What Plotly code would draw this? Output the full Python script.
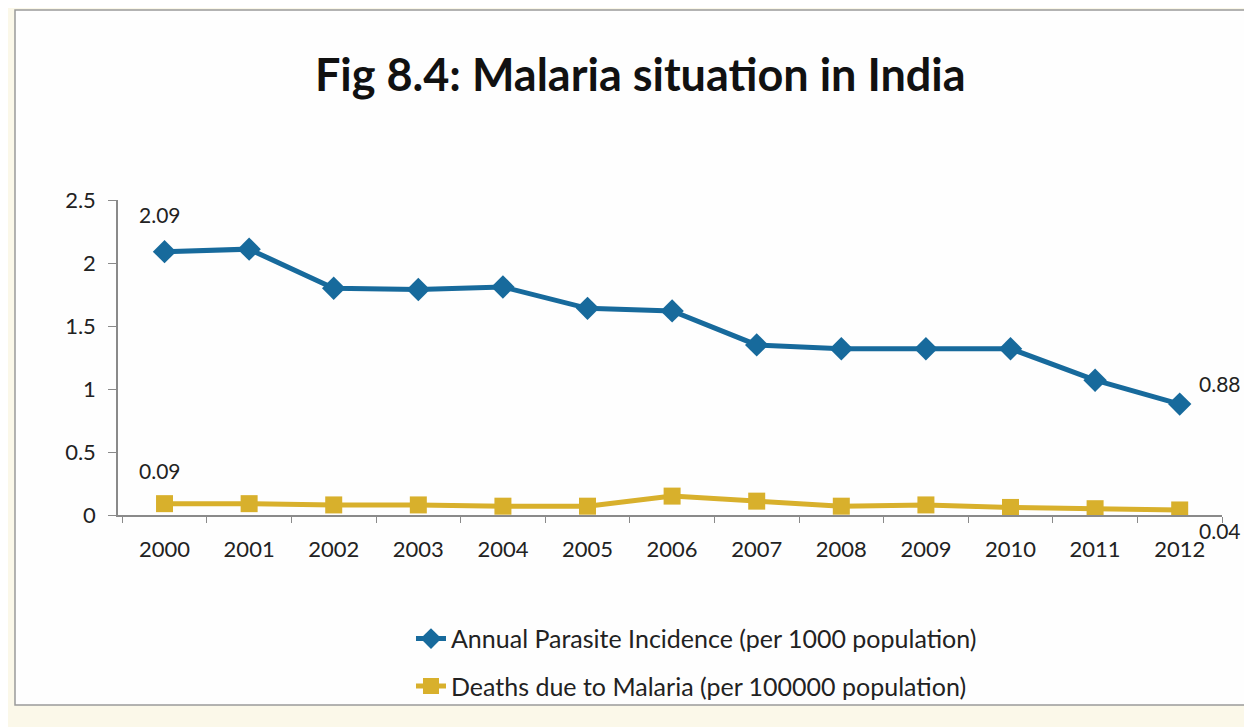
import plotly.graph_objects as go

# data
years = [str(y) for y in range(2000, 2013)]
api = [2.09, 2.11, 1.80, 1.79, 1.81, 1.64, 1.62, 1.35, 1.32, 1.32, 1.32, 1.07, 0.88]
deaths = [0.09, 0.09, 0.08, 0.08, 0.07, 0.07, 0.15, 0.11, 0.07, 0.08, 0.06, 0.05, 0.04]
y_ticks = [0, 0.5, 1, 1.5, 2, 2.5]
y_ticktext = ["0", "0.5", "1", "1.5", "2", "2.5"]

blue = "#176a9c"
gold = "#d8b02c"
font = "Lato, 'Noto Sans', sans-serif"

fig = go.Figure()
fig.add_trace(go.Scatter(
    x=years, y=api, mode="lines+markers", legendgroup="a",
    name="Annual Parasite Incidence (per 1000 population)",
    line=dict(color=blue, width=5),
    marker=dict(symbol="diamond", size=18, color=blue),
))
fig.add_trace(go.Scatter(
    x=years, y=deaths, mode="lines+markers", legendgroup="b",
    name="Deaths due to Malaria (per 100000 population)",
    line=dict(color=gold, width=5),
    marker=dict(symbol="square", size=17, color=gold),
))

# data labels on first and last points (x as category index)
n = len(years)
labels = [
    (0, api[0], f"{api[0]:.2f}", -5, 37),
    (0, deaths[0], f"{deaths[0]:.2f}", -5, 33),
    (n - 1, api[-1], f"{api[-1]:.2f}", 40, 21),
    (n - 1, deaths[-1], f"{deaths[-1]:.2f}", 40, -21),
]
for x, y, t, xs, ys in labels:
    fig.add_annotation(x=x, y=y, text=t, showarrow=False, xshift=xs, yshift=ys,
                       font=dict(size=21, color="#222222", family=font))

# chart frame
fig.add_shape(type="rect", xref="paper", yref="paper", layer="below",
              x0=-0.0933, x1=1.0208, y0=-0.603, y1=1.603,
              line=dict(color="#9a9a9a", width=1.5), fillcolor="#fefefe")

fig.update_layout(
    width=1252, height=727,
    paper_bgcolor="#fbf8e9", plot_bgcolor="rgba(0,0,0,0)",
    margin=dict(l=110, r=38, t=192, b=220),
    font=dict(family=font, size=22, color="#222222"),
    title=dict(text="<b>Fig 8.4: Malaria situation in India</b>",
               x=0.505, xanchor="center", y=0.908, yanchor="middle",
               font=dict(size=45, color="#111111", family=font)),
    showlegend=True,
    legend=dict(orientation="v", x=0.524, xanchor="center", y=-0.32, yanchor="top",
                bgcolor="rgba(0,0,0,0)", font=dict(size=25),
                tracegroupgap=12),
    xaxis=dict(type="category", range=[-0.55, 12.5], showline=True,
               linecolor="#8a8a8a", linewidth=1.5, ticks="outside",
               tickson="boundaries", ticklen=6, tickcolor="#8a8a8a",
               showgrid=False, zeroline=False, ticklabelstandoff=14),
    yaxis=dict(range=[0, 2.5], tickvals=y_ticks, ticktext=y_ticktext,
               showline=True, linecolor="#8a8a8a", linewidth=1.5,
               ticks="outside", ticklen=8, tickcolor="#8a8a8a",
               showgrid=False, zeroline=False, ticklabelstandoff=8),
)

fig.write_html("out.html")
